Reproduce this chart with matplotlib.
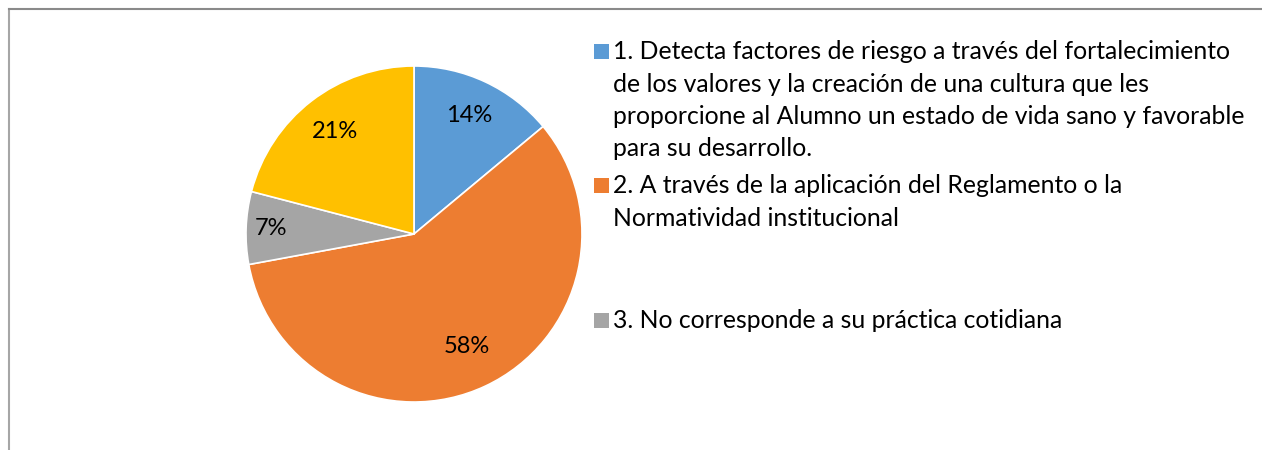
import matplotlib
matplotlib.use("Agg")
import matplotlib.pyplot as plt
from matplotlib.lines import Line2D
from matplotlib.patches import Rectangle
import numpy as np

# ---- data ----
categories = [
    "1. Detecta factores de riesgo a través del fortalecimiento\nde los valores y la creación de una cultura que les\nproporcione al Alumno un estado de vida sano y favorable\npara su desarrollo.",
    "2. A través de la aplicación del Reglamento o la\nNormatividad institucional",
    "3. No corresponde a su práctica cotidiana",
    "4.",
]
values = [6, 25, 3, 9]
colors = ["#5B9BD5", "#ED7D31", "#A5A5A5", "#FFC000"]
legend_shown = 3  # only three entries visible in the legend

# ---- layout ----
W, H = 1262, 450
fig = plt.figure(figsize=(W / 100, H / 100), dpi=100)
FONT = "Lato"
FS = 17.8
FS_PCT = 17

cx, cy, r = 414, 234, 168
ax = fig.add_axes([(cx - r) / W, (H - cy - r) / H, 2 * r / W, 2 * r / H])
wedges, _ = ax.pie(values, colors=colors, startangle=90, counterclock=False,
                   wedgeprops=dict(edgecolor="white", linewidth=1.2))
ax.set_xlim(-1, 1)
ax.set_ylim(-1, 1)
ax.set_aspect("equal")
ax.axis("off")

total = sum(values)
label_dist = [0.78, 0.74, 0.85, 0.77]
for w, v, d in zip(wedges, values, label_dist):
    ang = np.deg2rad((w.theta1 + w.theta2) / 2)
    ax.text(d * np.cos(ang), d * np.sin(ang), f"{round(100 * v / total)}%",
            ha="center", va="center", fontsize=FS_PCT, family=FONT, color="#000000")

# legend
leg_base = [59, 193, 328]  # pixel baseline of first line of each entry
line_px = 32.5
sq = 15
for i in range(legend_shown):
    yb = leg_base[i]
    fig.patches.append(Rectangle((594 / W, (H - yb) / H), sq / W, sq / H,
                                 transform=fig.transFigure, facecolor=colors[i],
                                 edgecolor="none"))
    lines = categories[i].split("\n")
    for j, ln in enumerate(lines):
        fig.text(613 / W, (H - yb - j * line_px) / H, ln, ha="left", va="baseline",
                 fontsize=FS, family=FONT, color="#000000")

# chart border (left and top visible)
fig.add_artist(Line2D([8.5 / W, 8.5 / W], [0, (H - 8.5) / H], color="#A6A6A6", lw=1.5,
                      transform=fig.transFigure))
fig.add_artist(Line2D([8.5 / W, 1], [(H - 8.5) / H, (H - 8.5) / H], color="#8A8A8A", lw=1.5,
                      transform=fig.transFigure))

fig.savefig("out.png", dpi=100, facecolor="white")
